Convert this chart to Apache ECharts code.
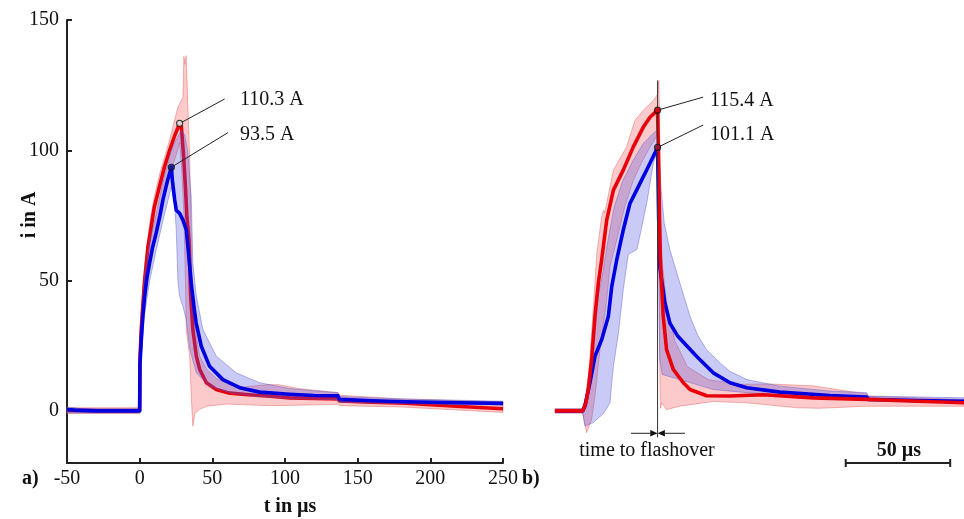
<!DOCTYPE html>
<html><head><meta charset="utf-8">
<script src="https://cdn.jsdelivr.net/npm/echarts@6/dist/echarts.min.js"></script>
<style>html,body{margin:0;padding:0;background:#fff}#c{width:964px;height:519px}</style>
</head><body><div id="c"></div>
<script>
// ---------- Panel a data: [t in µs, i in A] ----------
const xTicksA = [-50, 0, 50, 100, 150, 200, 250];
const yTicksA = [0, 50, 100, 150];
const redMeanA = [[-50,0.2],[-30,0.1],[-10,0.1],[0,0.2],[0.2,20],[1,30],[2,39],[3.4,50],[5.7,63],[6.9,67],[10,78],[13.8,86.5],[17,93.5],[20.6,100],[24,105.5],[27.5,110.3],[28.7,108.9],[30.3,97.4],[31.6,84.7],[32.5,74.5],[33.9,65.6],[34.4,57],[35.1,44],[36.6,31.2],[39,21],[41.3,15.9],[45.9,10.8],[52.7,8.2],[61.9,6.8],[75,6.2],[90,5.6],[103,5.0],[120,4.8],[136.5,4.6],[137.5,3.8],[160,3.3],[183,2.9],[218,1.8],[250,0.8]];
const blueMeanA = [[-50,0.5],[-45,0.3],[-30,0],[-10,0],[0,0],[0.2,18],[1.2,28],[2,35],[3.4,44],[5,51],[6.9,57],[9,63],[11.5,68.5],[14,75],[16,81],[19,88],[21.8,93.5],[22.5,88.5],[24.1,80.9],[25.2,77],[27.5,75.8],[29.8,73.2],[32.1,69.4],[33.2,63],[35.5,49],[37.8,38],[38.9,33.7],[42.4,24.8],[48.1,17.1],[57.3,12],[68.8,8.9],[82.5,7.2],[103,6.4],[120,5.9],[136.4,5.8],[137.4,4.4],[160,3.9],[183,3.5],[220,3.1],[250,2.9]];
const redUpperA = [[-50,1.2],[0,1.2],[0.1,30],[1,38],[3.4,55],[6.9,72],[10,82],[13.8,91],[20.6,104],[26.3,116.5],[29.8,120.4],[30.4,136],[31.2,133],[32,136.3],[33.2,116.5],[34.4,97.4],[35.5,65],[36.6,37.5],[41.3,21],[46,16],[52.7,12.5],[62,10],[72,9.2],[89,10.1],[96,10],[110,8.5],[136.5,7],[137.5,6],[180,4.6],[250,3.4]];
const redLowerA = [[-50,-1],[0,-1],[0.3,12],[1,22],[3.4,40],[6.9,56],[10,67],[13.8,77],[20.6,91],[25,98],[27.5,103],[29,92],[30.5,75],[31.5,50],[32.1,31],[34.4,21],[35.5,5.7],[36.6,-5.8],[38,-1],[41,0.5],[46,1.8],[60,2.6],[75,2.3],[90,2],[110,2.2],[136.5,2.5],[137.5,2],[180,1.5],[250,-0.6]];
const blueUpperA = [[-50,1.5],[-45,1.2],[-40,0.8],[0,0.8],[0.1,25],[1.2,35],[3.4,52],[6.9,65],[11.5,76],[16,88],[21.8,100],[25,104],[28.7,107.6],[31,106],[33,100],[35.5,82],[36.6,56.7],[39,43.9],[43.5,31.2],[52.7,21],[66.4,14.6],[82.5,10.8],[103,8.6],[120,7.7],[136.5,7],[137.5,5.5],[180,4.6],[250,3.7]];
const blueLowerA = [[-50,-0.8],[0,-0.8],[0.3,12],[1.2,22],[3.4,37],[6.9,50],[11.5,62],[16,73],[21.8,86],[24,80],[25.2,69.4],[26.3,50],[27.5,44],[29.8,40],[32,35],[34.4,24],[36.3,20],[39,14.6],[48,9.5],[62,7],[80,5.6],[100,4.8],[136.5,4.3],[137.5,3.3],[180,2.8],[250,2.2]];
const peaksA = [[27.5,110.3],[21.8,93.5]];
const peakLabelsA = ['110.3 A','93.5 A'];
const leaderEndsA = [[58.5,119.7],[60.8,106.8]];

// ---------- Panel b data: [t in µs from current onset, i in A] ----------
const redMeanB = [[-13.2,0],[0,0],[1.5,3],[2.7,8.2],[4.3,19.7],[5.9,36.3],[7.5,49],[9.1,58],[11.5,73.2],[14.7,84.7],[19.4,92.4],[24.2,101.3],[29,108.9],[32.2,112.7],[35.8,115.4],[36.2,100],[36.7,75],[37.1,59],[37.7,49],[38.5,36.3],[40.1,23.5],[43.3,15.9],[48.1,10.8],[51.3,8.2],[59.2,5.8],[70.4,5.7],[86.4,6.2],[110.3,5],[135.7,4.4],[160,3.7],[182.2,3.1]];
const blueMeanB = [[-13.2,0],[0,0],[1.1,1.8],[3.5,10.8],[5.9,21],[9.1,27.3],[12.3,36.3],[13.9,47.7],[16.3,58],[19.4,69.4],[22.6,79.6],[27.4,87.3],[31.3,93.6],[35.8,101.1],[36.3,75],[36.9,55],[39.3,41.4],[41.7,33.7],[45.5,28.6],[54.4,21],[62.4,14.6],[70.4,10.8],[78.4,8.9],[94.3,7.2],[118.2,5.9],[135.7,5.3],[136.5,4.4],[160,4],[182.2,3.7]];
const redUpperB = [[-13.2,0.8],[0,0.8],[1.5,6],[3,15],[4.3,29.9],[5.9,49],[6.7,60],[9.1,74.5],[10,77],[10.5,76],[11.5,79.6],[14.7,92.4],[21,101.3],[25,111.5],[29,115.3],[33.8,119.1],[36,121.7],[36.4,126.8],[36.8,110],[37.2,75],[38,57],[40,42],[44,27],[50,17],[60,12],[75,10.2],[90,10.3],[110,9.6],[135.7,6.5],[136.5,5.6],[182.2,4.4]];
const redLowerB = [[-13.2,-0.8],[0,-0.8],[1.9,-8.4],[4.3,-3.3],[5.9,5.7],[8.3,23.5],[11.5,42.6],[13.1,55.4],[17,68],[20,78],[24,88],[28,95],[32,101],[35.8,106],[36.3,80],[36.8,20],[37.2,1],[37.8,3.1],[40,0.5],[46.4,1.8],[62.4,3.6],[78.4,3.1],[102.3,1.2],[113,1],[135.7,1.8],[182.2,1.8]];
const blueUpperB = [[-13.2,0.8],[0,0.8],[1.5,5],[3,12],[4.5,25],[6,40],[9,50],[12,65],[15,78],[19,88],[24,96],[29,102.6],[33,106],[35.8,108],[36.5,100],[37.5,85],[39,72],[41.7,61.8],[46.5,49],[51.3,36.3],[55,29],[59.2,23.5],[65.6,18.4],[70.4,15.2],[78.4,12],[94.3,9.5],[118,7.6],[135.7,7],[136.5,5.7],[182.2,5]];
const blueLowerB = [[-13.2,-0.8],[0,-0.8],[1.1,-5.8],[5.1,-4.5],[10,-1],[13.1,3.1],[13.9,10.8],[14.7,17.1],[17.1,29.9],[19.4,46.5],[21.8,60],[26,62],[30.6,79.6],[33.8,95],[35.8,100],[36.3,60],[36.8,20],[38,14],[46.5,12],[62.4,8.2],[78.4,7],[100,5.8],[135.7,5],[136.5,4],[182.2,3]];
const peaksB = [[35.8,115.4],[35.8,101.1]];
const peakLabelsB = ['115.4 A','101.1 A'];
const leaderEndsB = [[57.6,120.4],[57.6,109.7]];
const flashoverT = 35.8;
const flashoverLine = [[35.8,126.8],[35.8,-10.2]];
const arrowY = -8.6;
const arrowSpan = [23.1, 48.9];
const scaleBar = [[125.7,-20],[175.6,-20]];
const scaleBarLabel = '50 µs';

// ---------- chart ----------
const FONT = 'Liberation Serif';
const RED = '#e8000b', BLUE = '#0000e0';
const chart = echarts.init(document.getElementById('c'), null, {renderer:'canvas'});

function band(upper, lower, fill, stroke, ai, z) {
  return {type:'custom', xAxisIndex:ai, yAxisIndex:ai, data:[[0,0]], silent:true, z:z, clip:false,
    renderItem:(p, api) => {
      const pts = upper.map(d => api.coord(d)).concat(lower.slice().reverse().map(d => api.coord(d)));
      return {type:'polygon', shape:{points:pts}, style:{fill:fill, stroke:stroke, lineWidth:0.8}};
    }};
}
function line(data, color, ai, z, w) {
  return {type:'line', xAxisIndex:ai, yAxisIndex:ai, data:data, showSymbol:false, symbol:'none', silent:true, z:z,
    lineStyle:{color:color, width:w || 3.6, join:'round'}};
}
function leader(p0, p1, ai) {
  return {type:'line', xAxisIndex:ai, yAxisIndex:ai, data:[p0, p1], symbol:'none', silent:true, z:10,
    lineStyle:{color:'#222', width:1}};
}
function marker(pt, fill, ai) {
  return {type:'scatter', xAxisIndex:ai, yAxisIndex:ai, data:[pt], symbol:'circle', symbolSize:6, silent:true, z:11,
    itemStyle:{color:fill, borderColor:'#111', borderWidth:1.2}};
}

const series = [
  band(redUpperA, redLowerA, 'rgba(245,90,90,0.32)', 'rgba(220,90,90,0.55)', 0, 1),
  line(redMeanA, RED, 0, 2),
  band(blueUpperA, blueLowerA, 'rgba(80,80,225,0.30)', 'rgba(90,90,200,0.55)', 0, 3),
  line(blueMeanA, BLUE, 0, 4),
  leader(peaksA[0], leaderEndsA[0], 0), leader(peaksA[1], leaderEndsA[1], 0),
  marker(peaksA[0], '#fff', 0), marker(peaksA[1], '#1a1aa0', 0),

  band(redUpperB, redLowerB, 'rgba(245,90,90,0.32)', 'rgba(220,90,90,0.55)', 1, 1),
  band(blueUpperB, blueLowerB, 'rgba(80,80,225,0.30)', 'rgba(90,90,200,0.55)', 1, 2),
  line(blueMeanB, BLUE, 1, 3),
  line(redMeanB, RED, 1, 4),
  {type:'line', xAxisIndex:1, yAxisIndex:1, data:flashoverLine, symbol:'none', silent:true, z:9,
    lineStyle:{color:'#333', width:1}},
  {type:'custom', xAxisIndex:1, yAxisIndex:1, data:[[flashoverT, arrowY]], silent:true, z:9, clip:false,
    renderItem:(p, api) => {
      const c = api.coord([flashoverT, arrowY]);
      const l = api.coord([arrowSpan[0], arrowY]);
      const r = api.coord([arrowSpan[1], arrowY]);
      const s = api.size([3.5, 0]);
      const w = s[0], h = 3.2;
      return {type:'group', children:[
        {type:'line', shape:{x1:l[0], y1:c[1], x2:c[0]-w, y2:c[1]}, style:{stroke:'#222', lineWidth:1}},
        {type:'line', shape:{x1:c[0]+w, y1:c[1], x2:r[0], y2:c[1]}, style:{stroke:'#222', lineWidth:1}},
        {type:'polygon', shape:{points:[[c[0]-w,c[1]-h],[c[0],c[1]],[c[0]-w,c[1]+h]]}, style:{fill:'#111'}},
        {type:'polygon', shape:{points:[[c[0]+w,c[1]-h],[c[0],c[1]],[c[0]+w,c[1]+h]]}, style:{fill:'#111'}}
      ]};
    }},
  {type:'custom', xAxisIndex:1, yAxisIndex:1, data:[scaleBar[0]], silent:true, z:9, clip:false,
    renderItem:(p, api) => {
      const a = api.coord(scaleBar[0]), b = api.coord(scaleBar[1]);
      return {type:'group', children:[
        {type:'line', shape:{x1:a[0], y1:a[1], x2:b[0], y2:b[1]}, style:{stroke:'#222', lineWidth:2}},
        {type:'line', shape:{x1:a[0], y1:a[1]-4, x2:a[0], y2:a[1]+4}, style:{stroke:'#222', lineWidth:2}},
        {type:'line', shape:{x1:b[0], y1:b[1]-4, x2:b[0], y2:b[1]+4}, style:{stroke:'#222', lineWidth:2}}
      ]};
    }},
  leader(peaksB[0], leaderEndsB[0], 1), leader(peaksB[1], leaderEndsB[1], 1),
  marker(peaksB[0], RED, 1), marker(peaksB[1], '#b0103a', 1)
];

const txt = (x, y, t, o, extra) => Object.assign({type:'text', x:x, y:y, silent:true, z:100,
  style:Object.assign({text:t, font:'20px "' + FONT + '"', fill:'#111', textAlign:'left', textVerticalAlign:'middle'}, o || {})}, extra || {});
const bold = {font:'bold 20px "' + FONT + '"'};

chart.setOption({
  animation:false,
  backgroundColor:'#fff',
  grid:[{left:67, top:20, width:436, height:443, containLabel:false},
        {left:555, top:20, width:409, height:443, containLabel:false}],
  xAxis:[
    {type:'value', gridIndex:0, min:-50, max:250, interval:50,
     axisLine:{show:true, onZero:false, lineStyle:{color:'#222', width:2}},
     axisTick:{show:true, inside:true, length:5, lineStyle:{color:'#222', width:2}},
     axisLabel:{color:'#111', fontFamily:FONT, fontSize:20, margin:6,
       customValues:xTicksA},
     splitLine:{show:false}},
    {type:'value', gridIndex:1, min:-13.2, max:182.2, show:false, splitLine:{show:false}}
  ],
  yAxis:[
    {type:'value', gridIndex:0, min:-20, max:150,
     axisLine:{show:true, onZero:false, lineStyle:{color:'#222', width:2}},
     axisTick:{show:true, inside:true, length:5, customValues:yTicksA, lineStyle:{color:'#222', width:2}},
     axisLabel:{color:'#111', fontFamily:FONT, fontSize:20, margin:8, customValues:yTicksA},
     splitLine:{show:false}},
    {type:'value', gridIndex:1, min:-20, max:150, show:false, splitLine:{show:false}}
  ],
  series:series,
  graphic:[
    txt(30, 215, 'i in A', Object.assign({textAlign:'center'}, bold), {rotation:Math.PI/2}),
    txt(290, 507, 't in µs', Object.assign({textAlign:'center'}, bold)),
    txt(22, 479, 'a)', bold),
    txt(522, 479, 'b)', bold),
    txt(240, 100, peakLabelsA[0]),
    txt(240, 135, peakLabelsA[1]),
    txt(710, 101, peakLabelsB[0]),
    txt(710, 135, peakLabelsB[1]),
    txt(647, 451, 'time to flashover', {textAlign:'center'}),
    txt(899, 451, scaleBarLabel, Object.assign({textAlign:'center'}, bold))
  ]
});
</script>
</body></html>
